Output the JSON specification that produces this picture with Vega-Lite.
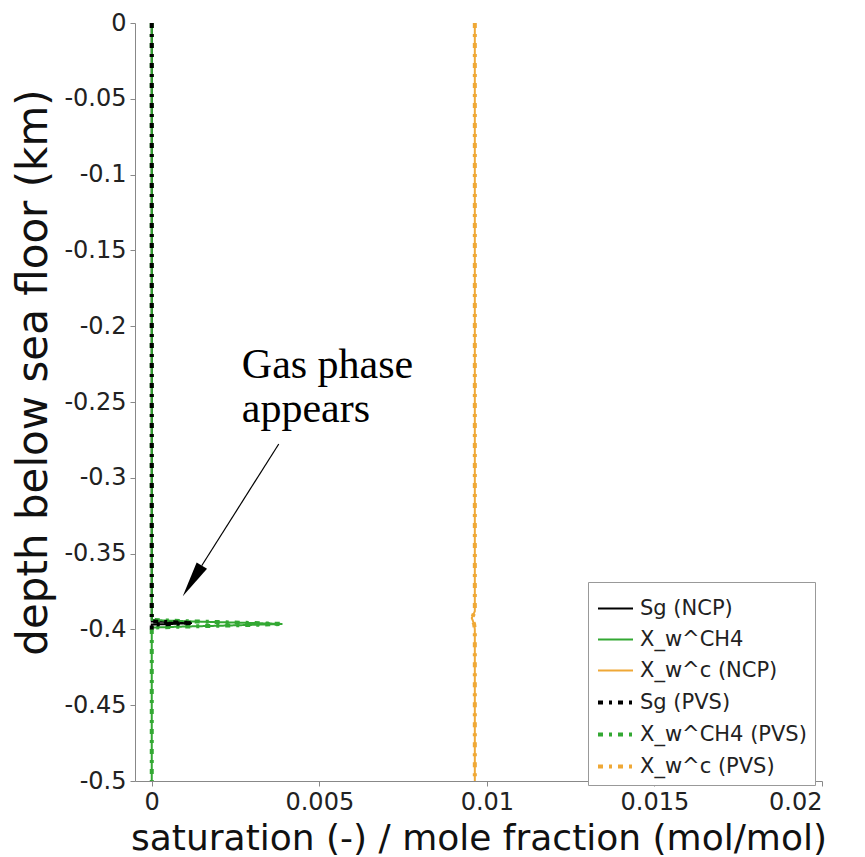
{
  "$schema": "https://vega.github.io/schema/vega-lite/v6.json",
  "width": 687,
  "height": 758,
  "autosize": {"type": "none"},
  "padding": {"left": 135, "top": 23, "right": 43, "bottom": 76},
  "background": "white",
  "config": {
    "view": {"stroke": null},
    "font": "DejaVu Sans",
    "axis": {
      "grid": false,
      "domainColor": "#888888",
      "tickColor": "#888888",
      "tickSize": 5,
      "labelPadding": 4,
      "labelColor": "#222222",
      "titleColor": "#111111",
      "titleFontWeight": "normal",
      "labelFont": "DejaVu Sans",
      "titleFont": "DejaVu Sans"
    },
    "legend": {
      "title": null,
      "orient": "none",
      "legendX": 453,
      "legendY": 559,
      "labelFontSize": 21,
      "labelLimit": 300,
      "labelFont": "DejaVu Sans",
      "labelColor": "#222222",
      "symbolType": "stroke",
      "symbolSize": 1225,
      "padding": 8,
      "rowPadding": 2,
      "labelOffset": 5,
      "strokeColor": "#999999",
      "fillColor": "white"
    }
  },
  "datasets": {
    "lines": [
      {"s": "Sg (NCP)", "i": 0, "x": 0, "d": 0},
      {"s": "Sg (NCP)", "i": 1, "x": 0, "d": -0.3948},
      {"s": "Sg (NCP)", "i": 2, "x": 0.0006, "d": -0.3952},
      {"s": "Sg (NCP)", "i": 3, "x": 0.0012, "d": -0.3958},
      {"s": "Sg (NCP)", "i": 4, "x": 0.0006, "d": -0.3964},
      {"s": "Sg (NCP)", "i": 5, "x": 0, "d": -0.3968},
      {"s": "Sg (NCP)", "i": 6, "x": 0, "d": -0.4},
      {"s": "X_w^CH4", "i": 0, "x": 0, "d": 0},
      {"s": "X_w^CH4", "i": 1, "x": 0, "d": -0.3938},
      {"s": "X_w^CH4", "i": 2, "x": 0.001, "d": -0.3946},
      {"s": "X_w^CH4", "i": 3, "x": 0.002, "d": -0.3952},
      {"s": "X_w^CH4", "i": 4, "x": 0.003, "d": -0.3958},
      {"s": "X_w^CH4", "i": 5, "x": 0.0039, "d": -0.3964},
      {"s": "X_w^CH4", "i": 6, "x": 0.003, "d": -0.397},
      {"s": "X_w^CH4", "i": 7, "x": 0.002, "d": -0.3976},
      {"s": "X_w^CH4", "i": 8, "x": 0.001, "d": -0.3981},
      {"s": "X_w^CH4", "i": 9, "x": 0, "d": -0.3988},
      {"s": "X_w^CH4", "i": 10, "x": 0, "d": -0.5},
      {"s": "X_w^c (NCP)", "i": 0, "x": 0.00964, "d": 0},
      {"s": "X_w^c (NCP)", "i": 1, "x": 0.00964, "d": -0.388},
      {"s": "X_w^c (NCP)", "i": 2, "x": 0.00955, "d": -0.3925},
      {"s": "X_w^c (NCP)", "i": 3, "x": 0.00962, "d": -0.3965},
      {"s": "X_w^c (NCP)", "i": 4, "x": 0.00964, "d": -0.4},
      {"s": "X_w^c (NCP)", "i": 5, "x": 0.00964, "d": -0.5},
      {"s": "X_w^CH4 (PVS)", "i": 0, "x": 0, "d": 0},
      {"s": "X_w^CH4 (PVS)", "i": 1, "x": 0, "d": -0.3938},
      {"s": "X_w^CH4 (PVS)", "i": 2, "x": 0.001, "d": -0.3946},
      {"s": "X_w^CH4 (PVS)", "i": 3, "x": 0.002, "d": -0.3952},
      {"s": "X_w^CH4 (PVS)", "i": 4, "x": 0.003, "d": -0.3958},
      {"s": "X_w^CH4 (PVS)", "i": 5, "x": 0.0039, "d": -0.3964},
      {"s": "X_w^CH4 (PVS)", "i": 6, "x": 0.003, "d": -0.397},
      {"s": "X_w^CH4 (PVS)", "i": 7, "x": 0.002, "d": -0.3976},
      {"s": "X_w^CH4 (PVS)", "i": 8, "x": 0.001, "d": -0.3981},
      {"s": "X_w^CH4 (PVS)", "i": 9, "x": 0, "d": -0.3988},
      {"s": "X_w^CH4 (PVS)", "i": 10, "x": 0, "d": -0.5},
      {"s": "X_w^c (PVS)", "i": 0, "x": 0.00964, "d": 0},
      {"s": "X_w^c (PVS)", "i": 1, "x": 0.00964, "d": -0.388},
      {"s": "X_w^c (PVS)", "i": 2, "x": 0.00956, "d": -0.3925},
      {"s": "X_w^c (PVS)", "i": 3, "x": 0.00962, "d": -0.3965},
      {"s": "X_w^c (PVS)", "i": 4, "x": 0.00964, "d": -0.4},
      {"s": "X_w^c (PVS)", "i": 5, "x": 0.00964, "d": -0.5},
      {"s": "Sg (PVS)", "i": 0, "x": 0, "d": 0},
      {"s": "Sg (PVS)", "i": 1, "x": 0, "d": -0.3948},
      {"s": "Sg (PVS)", "i": 2, "x": 0.0006, "d": -0.3952},
      {"s": "Sg (PVS)", "i": 3, "x": 0.0012, "d": -0.3958},
      {"s": "Sg (PVS)", "i": 4, "x": 0.0006, "d": -0.3964},
      {"s": "Sg (PVS)", "i": 5, "x": 0, "d": -0.3968},
      {"s": "Sg (PVS)", "i": 6, "x": 0, "d": -0.4}
    ],
    "arrow": [{"x": 0.00379, "d": -0.2777, "x2": 0.00149, "d2": -0.358}],
    "head": [{"x": 0.00121, "d": -0.368}],
    "note": [{"x": 0.002687, "d": -0.2342, "t": "Gas phase\nappears"}]
  },
  "encoding": {
    "x": {"field": "x", "type": "quantitative", "scale": {"domain": [-0.0005, 0.02], "nice": false, "zero": false},
      "axis": {"title": "saturation (-) / mole fraction (mol/mol)", "values": [0, 0.005, 0.01, 0.015, 0.02], "format": "~g", "labelFontSize": 24, "titleFontSize": 36, "titleBaseline": "middle", "titleY": 57}},
    "y": {"field": "d", "type": "quantitative", "scale": {"domain": [-0.5, 0], "nice": false, "zero": false},
      "axis": {"title": "depth below sea floor (km)", "values": [0, -0.05, -0.1, -0.15, -0.2, -0.25, -0.3, -0.35, -0.4, -0.45, -0.5], "labelExpr": "datum.value == 0 ? '0' : '-' + format(-datum.value, '~g')", "labelFontSize": 24, "titleFontSize": 42, "titleBaseline": "middle", "titleAlign": "center", "titleX": -102, "titleY": 349}}
  },
  "layer": [
    {
      "data": {"name": "lines"},
      "mark": {"type": "line", "clip": true},
      "encoding": {
        "order": {"field": "i", "type": "quantitative"},
        "color": {"field": "s", "type": "nominal",
          "scale": {"domain": ["Sg (NCP)", "X_w^CH4", "X_w^c (NCP)", "Sg (PVS)", "X_w^CH4 (PVS)", "X_w^c (PVS)"], "range": ["#000000", "#33a833", "#efa836", "#000000", "#33a833", "#efa836"]}},
        "strokeDash": {"field": "s", "type": "nominal",
          "scale": {"domain": ["Sg (NCP)", "X_w^CH4", "X_w^c (NCP)", "Sg (PVS)", "X_w^CH4 (PVS)", "X_w^c (PVS)"], "range": [[1, 0], [1, 0], [1, 0], [5, 6, 3, 6], [5, 6, 3, 6], [5, 6, 3, 6]]}},
        "strokeWidth": {"field": "s", "type": "nominal",
          "scale": {"type": "ordinal", "domain": ["Sg (NCP)", "X_w^CH4", "X_w^c (NCP)", "Sg (PVS)", "X_w^CH4 (PVS)", "X_w^c (PVS)"], "range": [2, 2, 2, 4, 4, 4]}}
      }
    },
    {
      "data": {"name": "arrow"},
      "mark": {"type": "rule", "color": "#000000", "strokeWidth": 1.2},
      "encoding": {
        "x2": {"field": "x2"},
        "y2": {"field": "d2"}
      }
    },
    {
      "data": {"name": "head"},
      "mark": {"type": "point", "shape": "M0,-1L0.34,1L-0.34,1Z", "filled": true, "color": "#000000", "opacity": 1, "size": 1296, "angle": 212, "strokeWidth": 0}
    },
    {
      "data": {"name": "note"},
      "mark": {"type": "text", "font": "Liberation Serif", "fontSize": 42, "lineHeight": 44, "lineBreak": "\n", "align": "left", "baseline": "alphabetic", "color": "#000000"},
      "encoding": {
        "text": {"field": "t"}
      }
    }
  ]
}
